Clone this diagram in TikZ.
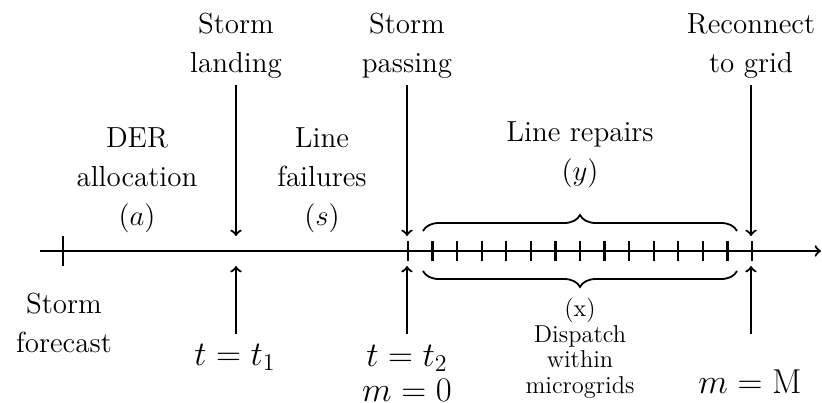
\documentclass[tikz,border=0pt]{standalone}
\usetikzlibrary{decorations.pathreplacing}
\begin{document}
\begin{tikzpicture}[x=0.5pt,y=-0.5pt,line width=1.1pt,
  lbl/.style={align=center,font=\fontsize{14.5}{19.5}\selectfont,inner sep=0pt,anchor=base},
  mathlbl/.style={align=center,font=\fontsize{17}{17.5}\selectfont,inner sep=0pt,anchor=base},
  smalllbl/.style={align=center,font=\fontsize{12.2}{12.75}\selectfont,inner sep=0pt,anchor=base},
  evarrow/.style={->},
  bigtick/.style={line width=1.1pt},
  smalltick/.style={line width=1.1pt},
  bracestyle/.style={decorate,decoration={brace,amplitude=8pt},line width=0.9pt}]
\useasboundingbox (0,0) rectangle (822,402);

% axis
\coordinate (axL) at (40,251);
\coordinate (axR) at (821,251);
\draw[evarrow] (axL) -- (axR);

% storm forecast tick
\coordinate (fT) at (63,236);
\coordinate (fB) at (63,266);
\draw[bigtick] (fT) -- (fB);

% small ticks
\foreach \i in {0,...,14}{
  \coordinate (tkT\i) at ({408+\i*24.57},241);
  \coordinate (tkB\i) at ({408+\i*24.57},261);
  \draw[smalltick] (tkT\i) -- (tkB\i);
}

% top labels (anchored at baseline of last line)
\node[lbl] (landing) at (236,72) {Storm\\landing};
\node[lbl] (passing) at (407,72) {Storm\\passing};
\node[lbl] (reconnect) at (751,72) {Reconnect\\to grid};

% middle labels
\node[lbl] (der) at (137,225) {DER\\allocation\\($a$)};
\node[lbl] (fail) at (322,225) {Line\\failures\\($s$)};
\node[lbl] (repair) at (580,180) {Line repairs\\($y$)};

% bottom labels
\node[lbl] (forecast) at (64,352) {Storm\\forecast};
\node[mathlbl] (t1) at (235,365) {$t=t_1$};
\node[mathlbl] (t2) at (407,401) {$t=t_2$\\$m=0$};
\node[mathlbl] (mM) at (750,393) {$m=\mathrm{M}$};
\node[smalllbl] (disp) at (580,393) {(x)\\Dispatch\\within\\microgrids};

% down arrows
\coordinate (d1a) at (236,85); \coordinate (d1b) at (236,236);
\coordinate (d2a) at (407,85); \coordinate (d2b) at (407,236);
\coordinate (d3a) at (751,85); \coordinate (d3b) at (751,236);
\draw[evarrow] (d1a) -- (d1b);
\draw[evarrow] (d2a) -- (d2b);
\draw[evarrow] (d3a) -- (d3b);

% up arrows
\coordinate (u1a) at (236,334); \coordinate (u1b) at (236,266);
\coordinate (u2a) at (407,334); \coordinate (u2b) at (407,266);
\coordinate (u3a) at (751,334); \coordinate (u3b) at (751,266);
\draw[evarrow] (u1a) -- (u1b);
\draw[evarrow] (u2a) -- (u2b);
\draw[evarrow] (u3a) -- (u3b);

% braces
\coordinate (brTL) at (423,231); \coordinate (brTR) at (737,231);
\coordinate (brBL) at (423,271); \coordinate (brBR) at (737,271);
\draw[bracestyle] (brTL) -- (brTR);
\draw[bracestyle] (brBR) -- (brBL);
\end{tikzpicture}
\end{document}
